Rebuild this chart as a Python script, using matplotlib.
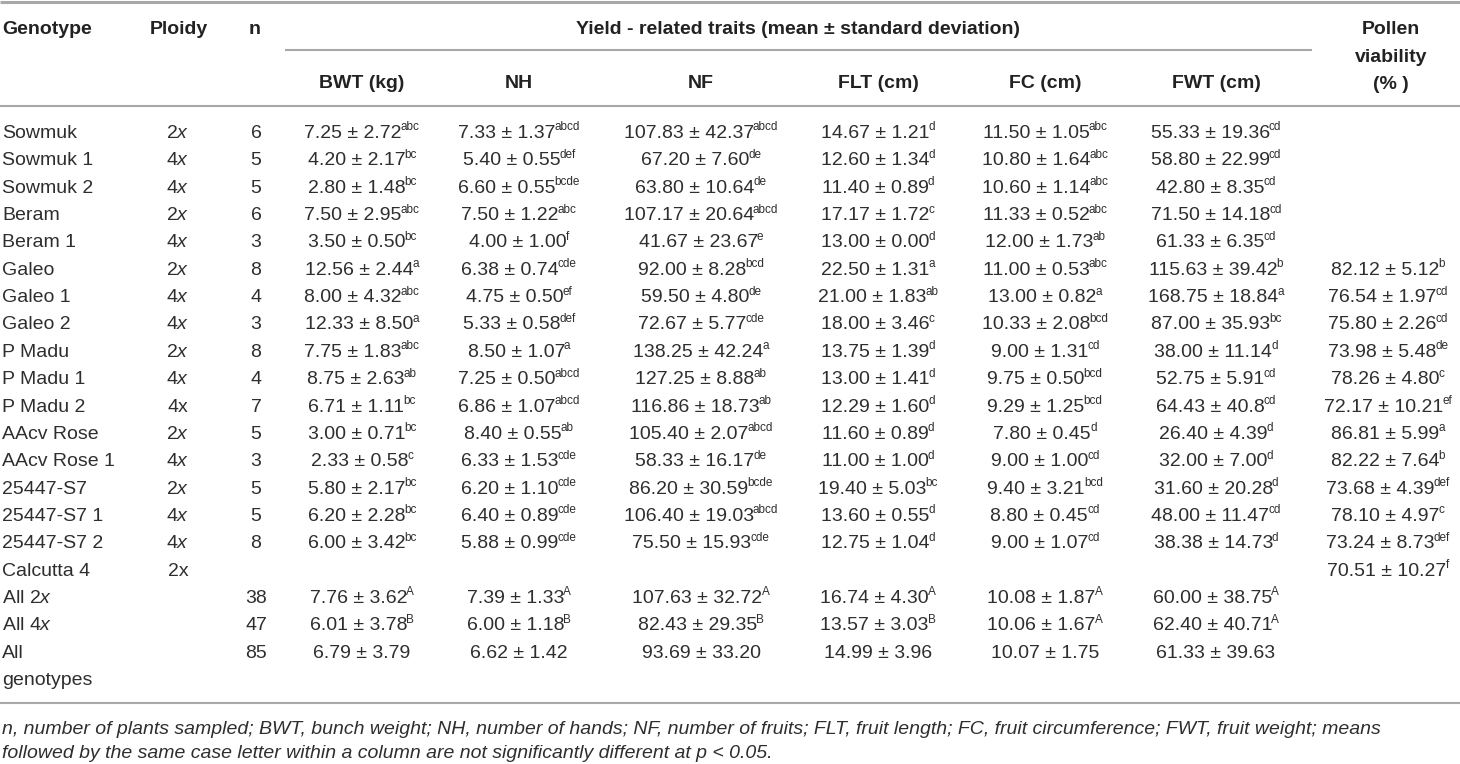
import matplotlib
matplotlib.use("Agg")
import matplotlib.pyplot as plt

plt.rcParams['font.family'] = ['Liberation Sans', 'DejaVu Sans']
plt.rcParams['mathtext.fontset'] = 'custom'
plt.rcParams['mathtext.rm'] = 'Liberation Sans'
plt.rcParams['mathtext.it'] = 'Liberation Sans:italic'

# --- table data ---
genotypes = ["Sowmuk", "Sowmuk 1", "Sowmuk 2", "Beram", "Beram 1", "Galeo", "Galeo 1",
             "Galeo 2", "P Madu", "P Madu 1", "P Madu 2", "AAcv Rose", "AAcv Rose 1",
             "25447-S7", "25447-S7 1", "25447-S7 2", "Calcutta 4",
             "All 2$x$", "All 4$x$", "All\ngenotypes"]
ploidy = ["2$x$", "4$x$", "4$x$", "2$x$", "4$x$", "2$x$", "4$x$", "4$x$", "2$x$", "4$x$",
          "4x", "2$x$", "4$x$", "2$x$", "4$x$", "4$x$", "2x", "", "", ""]
n_plants = ["6", "5", "5", "6", "3", "8", "4", "3", "8", "4", "7", "5", "3", "5", "5", "8",
            "", "38", "47", "85"]

bwt = [("7.25", "2.72", "abc"), ("4.20", "2.17", "bc"), ("2.80", "1.48", "bc"),
       ("7.50", "2.95", "abc"), ("3.50", "0.50", "bc"), ("12.56", "2.44", "a"),
       ("8.00", "4.32", "abc"), ("12.33", "8.50", "a"), ("7.75", "1.83", "abc"),
       ("8.75", "2.63", "ab"), ("6.71", "1.11", "bc"), ("3.00", "0.71", "bc"),
       ("2.33", "0.58", "c"), ("5.80", "2.17", "bc"), ("6.20", "2.28", "bc"),
       ("6.00", "3.42", "bc"), None, ("7.76", "3.62", "A"), ("6.01", "3.78", "B"),
       ("6.79", "3.79", "")]
nh = [("7.33", "1.37", "abcd"), ("5.40", "0.55", "def"), ("6.60", "0.55", "bcde"),
      ("7.50", "1.22", "abc"), ("4.00", "1.00", "f"), ("6.38", "0.74", "cde"),
      ("4.75", "0.50", "ef"), ("5.33", "0.58", "def"), ("8.50", "1.07", "a"),
      ("7.25", "0.50", "abcd"), ("6.86", "1.07", "abcd"), ("8.40", "0.55", "ab"),
      ("6.33", "1.53", "cde"), ("6.20", "1.10", "cde"), ("6.40", "0.89", "cde"),
      ("5.88", "0.99", "cde"), None, ("7.39", "1.33", "A"), ("6.00", "1.18", "B"),
      ("6.62", "1.42", "")]
nf = [("107.83", "42.37", "abcd"), ("67.20", "7.60", "de"), ("63.80", "10.64", "de"),
      ("107.17", "20.64", "abcd"), ("41.67", "23.67", "e"), ("92.00", "8.28", "bcd"),
      ("59.50", "4.80", "de"), ("72.67", "5.77", "cde"), ("138.25", "42.24", "a"),
      ("127.25", "8.88", "ab"), ("116.86", "18.73", "ab"), ("105.40", "2.07", "abcd"),
      ("58.33", "16.17", "de"), ("86.20", "30.59", "bcde"), ("106.40", "19.03", "abcd"),
      ("75.50", "15.93", "cde"), None, ("107.63", "32.72", "A"), ("82.43", "29.35", "B"),
      ("93.69", "33.20", "")]
flt = [("14.67", "1.21", "d"), ("12.60", "1.34", "d"), ("11.40", "0.89", "d"),
       ("17.17", "1.72", "c"), ("13.00", "0.00", "d"), ("22.50", "1.31", "a"),
       ("21.00", "1.83", "ab"), ("18.00", "3.46", "c"), ("13.75", "1.39", "d"),
       ("13.00", "1.41", "d"), ("12.29", "1.60", "d"), ("11.60", "0.89", "d"),
       ("11.00", "1.00", "d"), ("19.40", "5.03", "bc"), ("13.60", "0.55", "d"),
       ("12.75", "1.04", "d"), None, ("16.74", "4.30", "A"), ("13.57", "3.03", "B"),
       ("14.99", "3.96", "")]
fc = [("11.50", "1.05", "abc"), ("10.80", "1.64", "abc"), ("10.60", "1.14", "abc"),
      ("11.33", "0.52", "abc"), ("12.00", "1.73", "ab"), ("11.00", "0.53", "abc"),
      ("13.00", "0.82", "a"), ("10.33", "2.08", "bcd"), ("9.00", "1.31", "cd"),
      ("9.75", "0.50", "bcd"), ("9.29", "1.25", "bcd"), ("7.80", "0.45", "d"),
      ("9.00", "1.00", "cd"), ("9.40", "3.21", "bcd"), ("8.80", "0.45", "cd"),
      ("9.00", "1.07", "cd"), None, ("10.08", "1.87", "A"), ("10.06", "1.67", "A"),
      ("10.07", "1.75", "")]
fwt = [("55.33", "19.36", "cd"), ("58.80", "22.99", "cd"), ("42.80", "8.35", "cd"),
       ("71.50", "14.18", "cd"), ("61.33", "6.35", "cd"), ("115.63", "39.42", "b"),
       ("168.75", "18.84", "a"), ("87.00", "35.93", "bc"), ("38.00", "11.14", "d"),
       ("52.75", "5.91", "cd"), ("64.43", "40.8", "cd"), ("26.40", "4.39", "d"),
       ("32.00", "7.00", "d"), ("31.60", "20.28", "d"), ("48.00", "11.47", "cd"),
       ("38.38", "14.73", "d"), None, ("60.00", "38.75", "A"), ("62.40", "40.71", "A"),
       ("61.33", "39.63", "")]
pollen = [None, None, None, None, None,
          ("82.12", "5.12", "b"), ("76.54", "1.97", "cd"), ("75.80", "2.26", "cd"),
          ("73.98", "5.48", "de"), ("78.26", "4.80", "c"), ("72.17", "10.21", "ef"),
          ("86.81", "5.99", "a"), ("82.22", "7.64", "b"), ("73.68", "4.39", "def"),
          ("78.10", "4.97", "c"), ("73.24", "8.73", "def"), ("70.51", "10.27", "f"),
          None, None, None]

trait_headers = ["BWT (kg)", "NH", "NF", "FLT (cm)", "FC (cm)", "FWT (cm)"]
footnote = ["n, number of plants sampled; BWT, bunch weight; NH, number of hands; NF, number "
            "of fruits; FLT, fruit length; FC, fruit circumference; FWT, fruit weight; means",
            "followed by the same case letter within a column are not significantly "
            "different at p < 0.05."]

# --- layout (pixels) ---
W, H = 1460, 764
fig = plt.figure(figsize=(W / 100, H / 100), dpi=100)
ax = fig.add_axes([0, 0, 1, 1])
ax.set_xlim(0, W)
ax.set_ylim(H, 0)
ax.axis('off')
renderer = fig.canvas.get_renderer()

txt = '#2e2e2e'
rule = '#a8a8a8'
fs = 14
sup_fs = 8.5
sup_raise = 7.5

trait_x = [362, 519, 701, 878, 1045, 1216]
pollen_x = 1388
row0, step = 131, 27.35
off = 7   # baseline offset from row centre


def cell(x, y, v):
    # mean ± sd with a small superscript letter group, centred on x
    if v is None:
        return
    m, s, sup = v
    main = ax.text(0, y, f"{m} ± {s}", ha='left', va='baseline', fontsize=fs, color=txt)
    w1 = main.get_window_extent(renderer).width
    w2 = 0
    if sup:
        st = ax.text(0, y - sup_raise, sup, ha='left', va='baseline', fontsize=sup_fs, color=txt)
        w2 = st.get_window_extent(renderer).width - 1
    x0 = x - (w1 + w2) / 2
    main.set_x(x0)
    if sup:
        st.set_x(x0 + w1 - 1)


# rules
ax.plot([0, W], [2, 2], color=rule, lw=2.2, solid_capstyle='butt')
ax.plot([285, 1312], [50, 50], color=rule, lw=1.5, solid_capstyle='butt')
ax.plot([0, W], [106, 106], color=rule, lw=1.5, solid_capstyle='butt')
ax.plot([0, W], [703, 703], color=rule, lw=1.5, solid_capstyle='butt')

# headers
hb = dict(fontsize=fs, fontweight='bold', color='#222222', va='baseline')
ax.text(2, 27 + off, "Genotype", ha='left', **hb)
ax.text(179, 27 + off, "Ploidy", ha='center', **hb)
ax.text(255, 27 + off, "n", ha='center', **hb)
ax.text(798, 27 + off, "Yield - related traits (mean ± standard deviation)", ha='center', **hb)
for x, h in zip(trait_x, trait_headers):
    ax.text(x, 81 + off, h, ha='center', **hb)
for y, t in zip([27, 54.5, 82], ["Pollen", "viability", "(% )"]):
    ax.text(1391, y + off, t, ha='center', **hb)

# body
bt = dict(fontsize=fs, color=txt, va='baseline')
for i in range(len(genotypes)):
    y = row0 + i * step + off
    for k, line in enumerate(genotypes[i].split("\n")):
        ax.text(2, y + k * step, line, ha='left', **bt)
    ax.text(178, y, ploidy[i], ha='center', **bt)
    ax.text(256, y, n_plants[i], ha='center', **bt)
    for x, col in zip(trait_x, [bwt, nh, nf, flt, fc, fwt]):
        cell(x, y, col[i])
    cell(pollen_x, y, pollen[i])

# footnote
for k, line in enumerate(footnote):
    ax.text(2, 727 + off + k * 23.5, line, ha='left', fontsize=14, style='italic',
            color=txt, va='baseline')

fig.savefig("out.png", dpi=100)
